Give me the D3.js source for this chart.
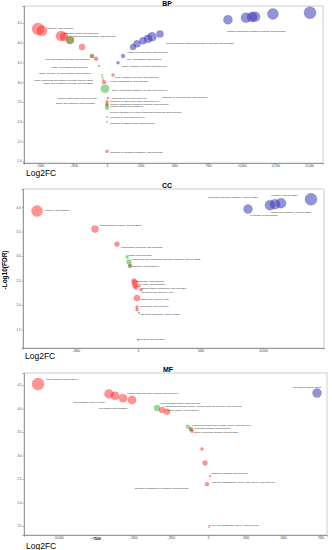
<!DOCTYPE html>
<html>
<head>
<meta charset="utf-8">
<script src="https://cdn.jsdelivr.net/npm/d3@7/dist/d3.min.js"></script>
<style>
body { margin: 0; background: #fff; }
svg { display: block; }
text { font-family: "Liberation Sans", Arial, sans-serif; }
</style>
</head>
<body>
<div id="chart"></div>
<script>
// ---- BP ----
var bpLog2FC = [-5120, -4830, -3415, -3190, -2750, -2750, -1855, -1115, -1115, -815, -595, -370, -330, -300, 445, -220, -150, 75, 0, 0, 0, 0, 0, 0, 0, 0,
                815, 1190, 1930, 2230, 2670, 3045, 3340, 3935, 8980, 10320, 10765, 10990, 12320, 15070];
var bpFDR    = [4.35, 4.30, 4.17, 4.15, 4.07, 4.07, 3.89, 3.66, 3.66, 3.59, 3.41, 3.18, 3.12, 3.06, 3.18, 3.00, 2.83, 2.60, 2.52, 2.47, 2.42, 2.42, 2.35, 2.12, 1.99, 1.25,
                3.49, 3.66, 3.89, 3.97, 4.05, 4.10, 4.15, 4.22, 4.58, 4.63, 4.65, 4.66, 4.73, 4.76];
var bpCount  = [400, 278, 278, 178, 178, 150, 100, 44, 40, 44, 11, 7, 7, 7, 25, 44, 178, 11, 11, 25, 25, 20, 44, 7, 7, 25,
                25, 44, 100, 136, 136, 178, 225, 136, 225, 278, 278, 278, 336, 400];
var bpGroup  = ["down", "down", "down", "down", "down", "other", "down", "down", "other", "down", "other", "other", "other", "other", "down", "down", "other", "down", "down", "down", "down", "other", "other", "other", "other", "down",
                "up", "up", "up", "up", "up", "up", "up", "up", "up", "up", "up", "up", "up", "up"];
var bpLabels = [
  ["transport (GO:0006810)", -4455, 4.38, "start"],
  ["phosphorylation (GO:0016310)", -3190, 4.25, "start"],
  ["protein phosphorylation (GO:0006468)", -2525, 4.17, "start"],
  ["lipid biosynthetic process (GO:0008610)", -1262, 3.59, "end"],
  ["mRNA processing (GO:0006397)", -1410, 3.39, "end"],
  ["mRNA splicing, via spliceosome (GO:0000398)", -1188, 3.23, "end"],
  ["sulfur compound biosynthetic process (GO:0044272)", -1040, 3.06, "end"],
  ["amino acid metabolic process (GO:0006520)", -1040, 2.98, "end"],
  ["rRNA metabolic process (GO:0016072)", 594, 3.13, "start"],
  ["vesicle organization (GO:0016050)", 223, 3.03, "start"],
  ["sulfur compound metabolic process (GO:0006790)", 371, 2.80, "start"],
  ["vacuole organization (GO:0007033)", -742, 2.60, "end"],
  ["response to cold (GO:0009409)", 371, 2.60, "start"],
  ["response to acid chemical (GO:0001101)", 4085, 2.61, "start"],
  ["amino acid transport (GO:0006865)", -890, 2.47, "end"],
  ["response to water deprivation (GO:0009414)", 223, 2.52, "start"],
  ["nitrogen compound metabolic process (GO:0006807)", 223, 2.45, "start"],
  ["photosynthesis (GO:0015979)", 223, 2.38, "start"],
  ["cellular response to oxygen-containing compound (GO:1901701)", 223, 2.25, "start"],
  ["response to cold (GO:0009409)", 223, 2.12, "start"],
  ["response to abscisic acid (GO:0009737)", 223, 1.97, "start"],
  ["response to inorganic substance (GO:0010035)", 223, 1.23, "start"],
  ["mRNA metabolic process (GO:0016071)", 1114, 3.41, "start"],
  ["RNA processing (GO:0006396)", 1485, 3.59, "start"],
  ["organelle organization (GO:0006996)", 1485, 3.77, "start"],
  ["cellular aromatic compound metabolic process (GO:0006725)", 4380, 3.99, "start"],
  ["nitrogen compound metabolic process (GO:0006807)", 8909, 4.30, "start"]
];
var bpXTicks = [-5000, -2500, 0, 2500, 5000, 7500, 10000, 12500, 15000];
var bpXTickLabels = ["\u22125000", "\u22122500", "0", "2500", "5000", "7500", "10,000", "12,500", "15,000"];
var bpYTicks = [1.0, 1.5, 2.0, 2.5, 3.0, 3.5, 4.0, 4.5];

// ---- CC ----
var ccLog2FC = [-8080, -3440, -1680, -880, -720, -640, -640, -320, -240, -240, -160, 80, 240, -80, -80, -80, 80, 0,
                8800, 10560, 10960, 11440, 13840];
var ccFDR    = [3.92, 3.55, 3.24, 2.98, 2.88, 2.80, 2.80, 2.49, 2.45, 2.39, 2.35, 2.39, 2.31, 2.14, 1.96, 1.90, 1.84, 1.29,
                3.96, 4.04, 4.06, 4.08, 4.16];
var ccCount  = [336, 136, 69, 25, 69, 44, 30, 69, 100, 69, 44, 25, 25, 100, 25, 25, 11, 11,
                225, 278, 278, 278, 400];
var ccGroup  = ["down", "down", "down", "other", "other", "down", "other", "down", "down", "down", "down", "down", "down", "down", "down", "down", "other", "other",
                "up", "up", "up", "up", "up"];
var ccLabels = [
  ["nucleus (GO:0005634)", -7440, 3.94, "start"],
  ["endomembrane system (GO:0012505)", -3120, 3.63, "start"],
  ["endoplasmic reticulum (GO:0005783)", -1360, 3.18, "start"],
  ["plastid (GO:0009536)", -800, 3.02, "start"],
  ["intracellular non-membrane-bounded organelle (GO:0043232)", -480, 2.94, "start"],
  ["ribosome (GO:0005840)", -480, 2.80, "start"],
  ["membrane (GO:0016020)", -160, 2.49, "start"],
  ["cytosol (GO:0005829)", 240, 2.43, "start"],
  ["photosynthetic membrane (GO:0034357)", 240, 2.35, "start"],
  ["thylakoid part (GO:0044436)", 320, 2.27, "start"],
  ["plastid part (GO:0044435)", 160, 2.12, "start"],
  ["chloroplast (GO:0009507)", 160, 1.98, "start"],
  ["thylakoid membrane (GO:0042651)", 240, 1.82, "start"],
  ["thylakoid (GO:0009579)", 80, 1.31, "start"],
  ["membrane-bounded organelle (GO:0043227)", 5600, 4.20, "start"],
  ["organelle (GO:0043226)", 10640, 4.24, "start"],
  ["intracellular organelle (GO:0043229)", 10640, 3.90, "start"],
  ["cytoplasm (GO:0005737)", 8960, 3.84, "start"]
];
var ccXTicks = [-5000, 0, 5000, 10000];
var ccXTickLabels = ["\u22125000", "0", "5000", "10,000"];
var ccYTicks = [1.5, 2.0, 2.5, 3.0, 3.5, 4.0];

// ---- MF ----
var mfLog2FC = [-11333, -6600, -6200, -5667, -5067, -3400, -3067, -2733, 7267, -1333, -1133, -1133, -1067, -400, -200, 133, -67, 67];
var mfFDR    = [4.52, 4.31, 4.27, 4.22, 4.18, 4.01, 3.97, 3.93, 4.33, 3.61, 3.56, 3.56, 3.52, 3.14, 2.84, 2.56, 2.39, 1.48];
var mfCount  = [400, 225, 178, 178, 178, 100, 100, 100, 225, 44, 44, 30, 30, 25, 69, 11, 44, 7];
var mfGroup  = ["down", "down", "down", "down", "down", "other", "down", "down", "up", "other", "down", "other", "down", "down", "down", "down", "down", "down"];
var mfLabels = [
  ["cation binding (GO:0043169)", -10800, 4.63, "start"],
  ["carbohydrate derivative binding (GO:0097367)", -5400, 4.33, "start"],
  ["anion binding (GO:0043168)", -6867, 4.14, "end"],
  ["ATP binding (GO:0005524)", -5333, 4.01, "end"],
  ["protein kinase activity (GO:0004672)", -3200, 4.12, "start"],
  ["phosphotransferase activity, alcohol group as acceptor (GO:0016773)", -2867, 4.05, "start"],
  ["kinase activity (GO:0016301)", -2733, 3.97, "start"],
  ["ion binding (GO:0043167)", 5667, 4.46, "start"],
  ["protein serine/threonine kinase activity (GO:0004674)", -1067, 3.65, "start"],
  ["nucleotide binding (GO:0000166)", -933, 3.59, "start"],
  ["adenyl nucleotide binding (GO:0030554)", -933, 3.50, "start"],
  ["chlorophyll binding (GO:0016168)", 200, 2.63, "start"],
  ["ribulose-bisphosphate carboxylase activity (GO:0016984)", 267, 2.44, "start"],
  ["structural constituent of ribosome (GO:0003735)", -4867, 2.31, "start"],
  ["NADH dehydrogenase activity (GO:0003954)", 67, 1.52, "start"]
];
var mfXTicks = [-10000, -7500, -5000, -2500, 0, 2500, 5000, 7500];
var mfXTickLabels = ["\u221210,000", "\u22127500", "\u22125000", "\u22122500", "0", "2500", "5000", "7500"];
var mfYTicks = [1.5, 2.0, 2.5, 3.0, 3.5, 4.0, 4.5];

var width = 332, height = 550;
var svg = d3.select("#chart").append("svg").attr("width", width).attr("height", height);

var color = d3.scaleOrdinal().domain(["down", "up", "other"]).range(["#ff2a2a", "#3a3ab8", "#2fb52f"]);
var radius = d3.scaleSqrt().domain([0, 400]).range([0, 6]);

function drawPanel(p) {
    var x = d3.scaleLinear().domain(p.xDomain).range([p.left, p.right]),
        y = d3.scaleLinear().domain(p.yDomain).range([p.bottom, p.top]),
        g = svg.append("g");

    g.append("rect")
        .attr("x", p.left).attr("y", p.top)
        .attr("width", p.right - p.left).attr("height", p.bottom - p.top)
        .attr("fill", "none").attr("stroke", "#b8b8b8").attr("stroke-width", 0.7);

    var xa = g.append("g")
        .attr("transform", "translate(0," + p.bottom + ")")
        .call(d3.axisBottom(x).tickValues(p.xTicks).tickSize(1.5).tickPadding(1)
            .tickFormat(function(d, i) { return p.xTickLabels[i]; }));
    var ya = g.append("g")
        .attr("transform", "translate(" + p.left + ",0)")
        .call(d3.axisLeft(y).tickValues(p.yTicks).tickSize(1.5).tickPadding(1).tickFormat(d3.format(".1f")));

    [xa, ya].forEach(function(a) {
        a.select(".domain").attr("stroke", "#777").attr("stroke-width", 0.7);
        a.selectAll(".tick line").attr("stroke", "#777").attr("stroke-width", 0.5);
        a.selectAll(".tick text").attr("font-size", "2.8px").attr("fill", "#333");
    });
    if (p.boldTick != null) {
        xa.selectAll(".tick text").filter(function(d) { return d === p.boldTick; })
            .attr("font-size", "3.4px").attr("font-weight", "bold").attr("fill", "#000");
    }

    var pts = p.fc.map(function(d, i) {
        return {fc: d, fdr: p.fdr[i], n: p.count[i], grp: p.group[i]};
    });

    g.selectAll(".pt")
        .data(pts)
        .enter()
        .append("circle")
        .attr("class", "pt")
        .attr("cx", function(d) { return x(d.fc); })
        .attr("cy", function(d) { return y(d.fdr); })
        .attr("r", function(d) { return radius(d.n); })
        .attr("fill", function(d) { return color(d.grp); })
        .attr("fill-opacity", function(d) { return d.grp == "up" ? 0.55 : 0.5; })
        .attr("stroke", function(d) { return color(d.grp); })
        .attr("stroke-opacity", 0.5)
        .attr("stroke-width", 0.4);

    g.selectAll(".lbl")
        .data(p.labels)
        .enter()
        .append("text")
        .attr("class", "lbl")
        .attr("x", function(d) { return x(d[1]); })
        .attr("y", function(d) { return y(d[2]); })
        .attr("dy", "0.35em")
        .attr("text-anchor", function(d) { return d[3]; })
        .attr("font-size", "2.5px")
        .attr("fill", "#222")
        .text(function(d) { return d[0]; });

    svg.append("text")
        .attr("x", p.titleX).attr("y", p.titleY)
        .attr("text-anchor", "middle")
        .attr("font-size", "7px").attr("font-weight", "bold")
        .text(p.title);

    svg.append("text")
        .attr("x", p.left + 2).attr("y", p.xlabY)
        .attr("font-size", "8.5px")
        .text("Log2FC");
}

drawPanel({
    title: "BP", titleX: 167, titleY: 6,
    left: 24, right: 323, top: 6, bottom: 163, xlabY: 176,
    xDomain: [-6162, 16036], yDomain: [0.95, 4.93],
    xTicks: bpXTicks, xTickLabels: bpXTickLabels, yTicks: bpYTicks,
    fc: bpLog2FC, fdr: bpFDR, count: bpCount, group: bpGroup, labels: bpLabels
});

drawPanel({
    title: "CC", titleX: 167, titleY: 188,
    left: 23, right: 324, top: 189, bottom: 348, xlabY: 359,
    xDomain: [-9200, 14880], yDomain: [1.12, 4.37],
    xTicks: ccXTicks, xTickLabels: ccXTickLabels, yTicks: ccYTicks,
    fc: ccLog2FC, fdr: ccFDR, count: ccCount, group: ccGroup, labels: ccLabels
});

drawPanel({
    title: "MF", titleX: 168, titleY: 372,
    left: 24, right: 327, top: 373, bottom: 535, xlabY: 549,
    xDomain: [-12267, 7933], yDomain: [1.31, 4.755],
    xTicks: mfXTicks, xTickLabels: mfXTickLabels, yTicks: mfYTicks, boldTick: -7500,
    fc: mfLog2FC, fdr: mfFDR, count: mfCount, group: mfGroup, labels: mfLabels
});

svg.append("text")
    .attr("transform", "translate(7,270) rotate(-90)")
    .attr("text-anchor", "middle")
    .attr("font-size", "6.5px").attr("font-weight", "bold")
    .text("-Log10(FDR)");
</script>
</body>
</html>
